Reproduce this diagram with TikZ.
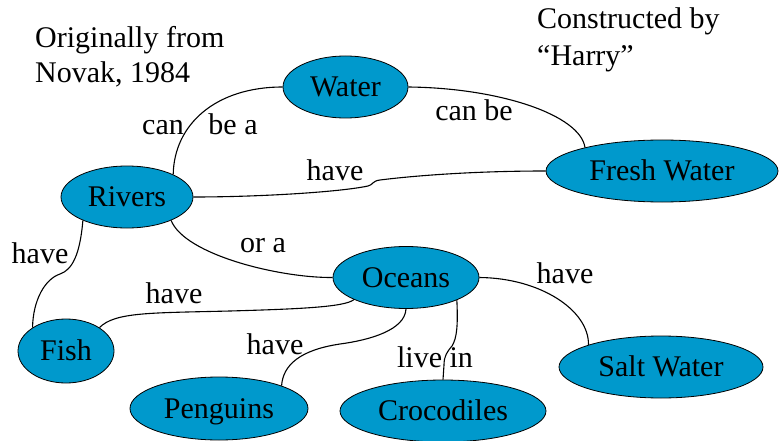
\documentclass[tikz,border=0pt]{standalone}
\usepackage{fontspec}
\setmainfont{Liberation Serif}
\usetikzlibrary{shapes.geometric}
\definecolor{conceptblue}{RGB}{0,153,204}
\tikzset{
  concept/.style={ellipse, draw=black, line width=0.8pt, fill=conceptblue, inner sep=0pt,
    text height=19pt, text depth=0pt},
  link/.style={draw=black, line width=1.1pt},
  lbl/.style={anchor=base, inner sep=0pt},
}
\begin{document}
\begin{tikzpicture}[x=1pt,y=-1pt,font=\fontsize{30}{35}\selectfont]
\useasboundingbox (0,0) rectangle (784,441);
% concepts
\node[concept, minimum width=125pt, minimum height=62pt] (water) at (345.5,87) {Water};
\node[concept, minimum width=132pt, minimum height=62pt] (rivers) at (127,197) {Rivers};
\node[concept, minimum width=232pt, minimum height=62pt] (fresh) at (662,171) {Fresh Water};
\node[concept, minimum width=146pt, minimum height=62pt] (oceans) at (406,277.5) {Oceans};
\node[concept, minimum width=96pt, minimum height=64pt] (fish) at (66,351) {Fish};
\node[concept, minimum width=178pt, minimum height=63pt] (penguins) at (219,408.5) {Penguins};
\node[concept, minimum width=206pt, minimum height=62pt] (croc) at (443,411) {Crocodiles};
\node[concept, minimum width=204pt, minimum height=62pt] (salt) at (661,367) {Salt Water};
% notes
\node[anchor=base west, inner sep=0pt, align=left] (note1) at (35,83) {Originally from\\Novak, 1984};
\node[anchor=base west, inner sep=0pt, align=left, font=\fontsize{30}{37}\selectfont] (note2) at (537,66) {Constructed by\\``Harry''};
% links
\draw[link] (rivers.26) .. controls (174,125) and (215,87) .. (water.west);
\draw[link] (water.east) .. controls (500,88) and (580,115) .. (fresh.163.7);
\draw[link] (rivers.east) .. controls (260,197) and (340,192) .. (368,186)
  .. controls (373,185) and (372,181) .. (380,180)
  .. controls (420,175) and (480,171) .. (fresh.west);
\draw[link] (rivers.208) .. controls (80,255) and (72,270) .. (60,274)
  .. controls (45,279) and (33,300) .. (fish.145);
\draw[link] (rivers.332) .. controls (185,255) and (280,278) .. (oceans.west);
\draw[link] (fish.35) .. controls (115,312) and (150,313) .. (230,311)
  .. controls (300,309) and (345,307) .. (oceans.203.9);
\draw[link] (oceans.south) .. controls (405,330) and (370,340) .. (340,344)
  .. controls (300,350) and (283,365) .. (penguins.20);
\draw[link] (oceans.336) .. controls (458,325) and (457,338) .. (452,346)
  .. controls (447,352) and (444,356) .. (444,365) -- (croc.north);
\draw[link] (oceans.east) .. controls (540,278) and (589,310) .. (salt.163);
% link labels
\node[lbl] (l1) at (163,135) {can};
\node[lbl] (l2) at (233,135) {be a};
\node[lbl] (l3) at (335,180) {have};
\node[lbl] (l4) at (474,121) {can be};
\node[lbl] (l5) at (40,263) {have};
\node[lbl] (l6) at (263,252) {or a};
\node[lbl] (l7) at (174,303) {have};
\node[lbl] (l8) at (275,354) {have};
\node[lbl] (l9) at (435,367) {live in};
\node[lbl] (l10) at (565,283) {have};
\end{tikzpicture}
\end{document}
